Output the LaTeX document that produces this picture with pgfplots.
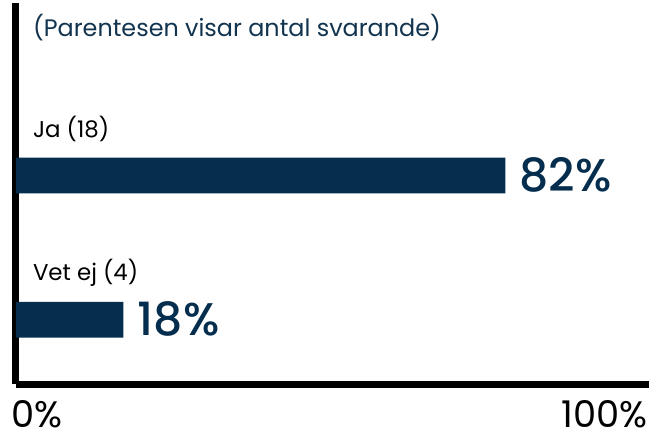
\documentclass[border=0pt]{standalone}
\usepackage{pgfplots}
\pgfplotsset{compat=1.18}
\usepackage{fontspec}
\setmainfont{Poppins}
\newfontfamily\medfont{Poppins Medium}
\definecolor{navy}{HTML}{042D4E}
\definecolor{titlenavy}{HTML}{12344F}
\begin{document}
\begin{tikzpicture}[x=1pt,y=1pt]
\path[fill=white] (0,0) rectangle (652,432);
\begin{axis}[
  at={(16pt,49pt)}, anchor=south west,
  scale only axis, width=636pt, height=383pt,
  xmin=0, xmax=106, ymin=49, ymax=432,
  xbar, bar width=36pt, bar shift=0pt,
  axis lines*=left, axis line style={line width=7pt, black},
  xtick=\empty, ytick=\empty, clip=false,
  /pgf/number format/assume math mode=true,
  point meta=x,
  nodes near coords={\pgfmathprintnumber{\pgfplotspointmeta}\%},
  nodes near coords style={anchor=west, xshift=11pt, yshift=1pt, text=navy, font=\medfont\fontsize{46}{50}\selectfont},
]
\addplot[fill=navy, draw=none] coordinates {(82,259) (18,114)};
\end{axis}
\node[anchor=west, inner sep=0, text=titlenavy, font=\fontsize{24}{28}\selectfont] at (33,408) {(Parentesen visar antal svarande)};
\node[anchor=west, inner sep=0, font=\fontsize{23}{27}\selectfont] at (33,306) {Ja (18)};
\node[anchor=west, inner sep=0, font=\fontsize{23}{27}\selectfont] at (33,161) {Vet ej (4)};
\node[anchor=base west, inner sep=0, font=\fontsize{37}{40}\selectfont] at (11,6) {0\%};
\node[anchor=base east, inner sep=0, font=\fontsize{37}{40}\selectfont] at (651,6) {100\%};
\end{tikzpicture}
\end{document}
